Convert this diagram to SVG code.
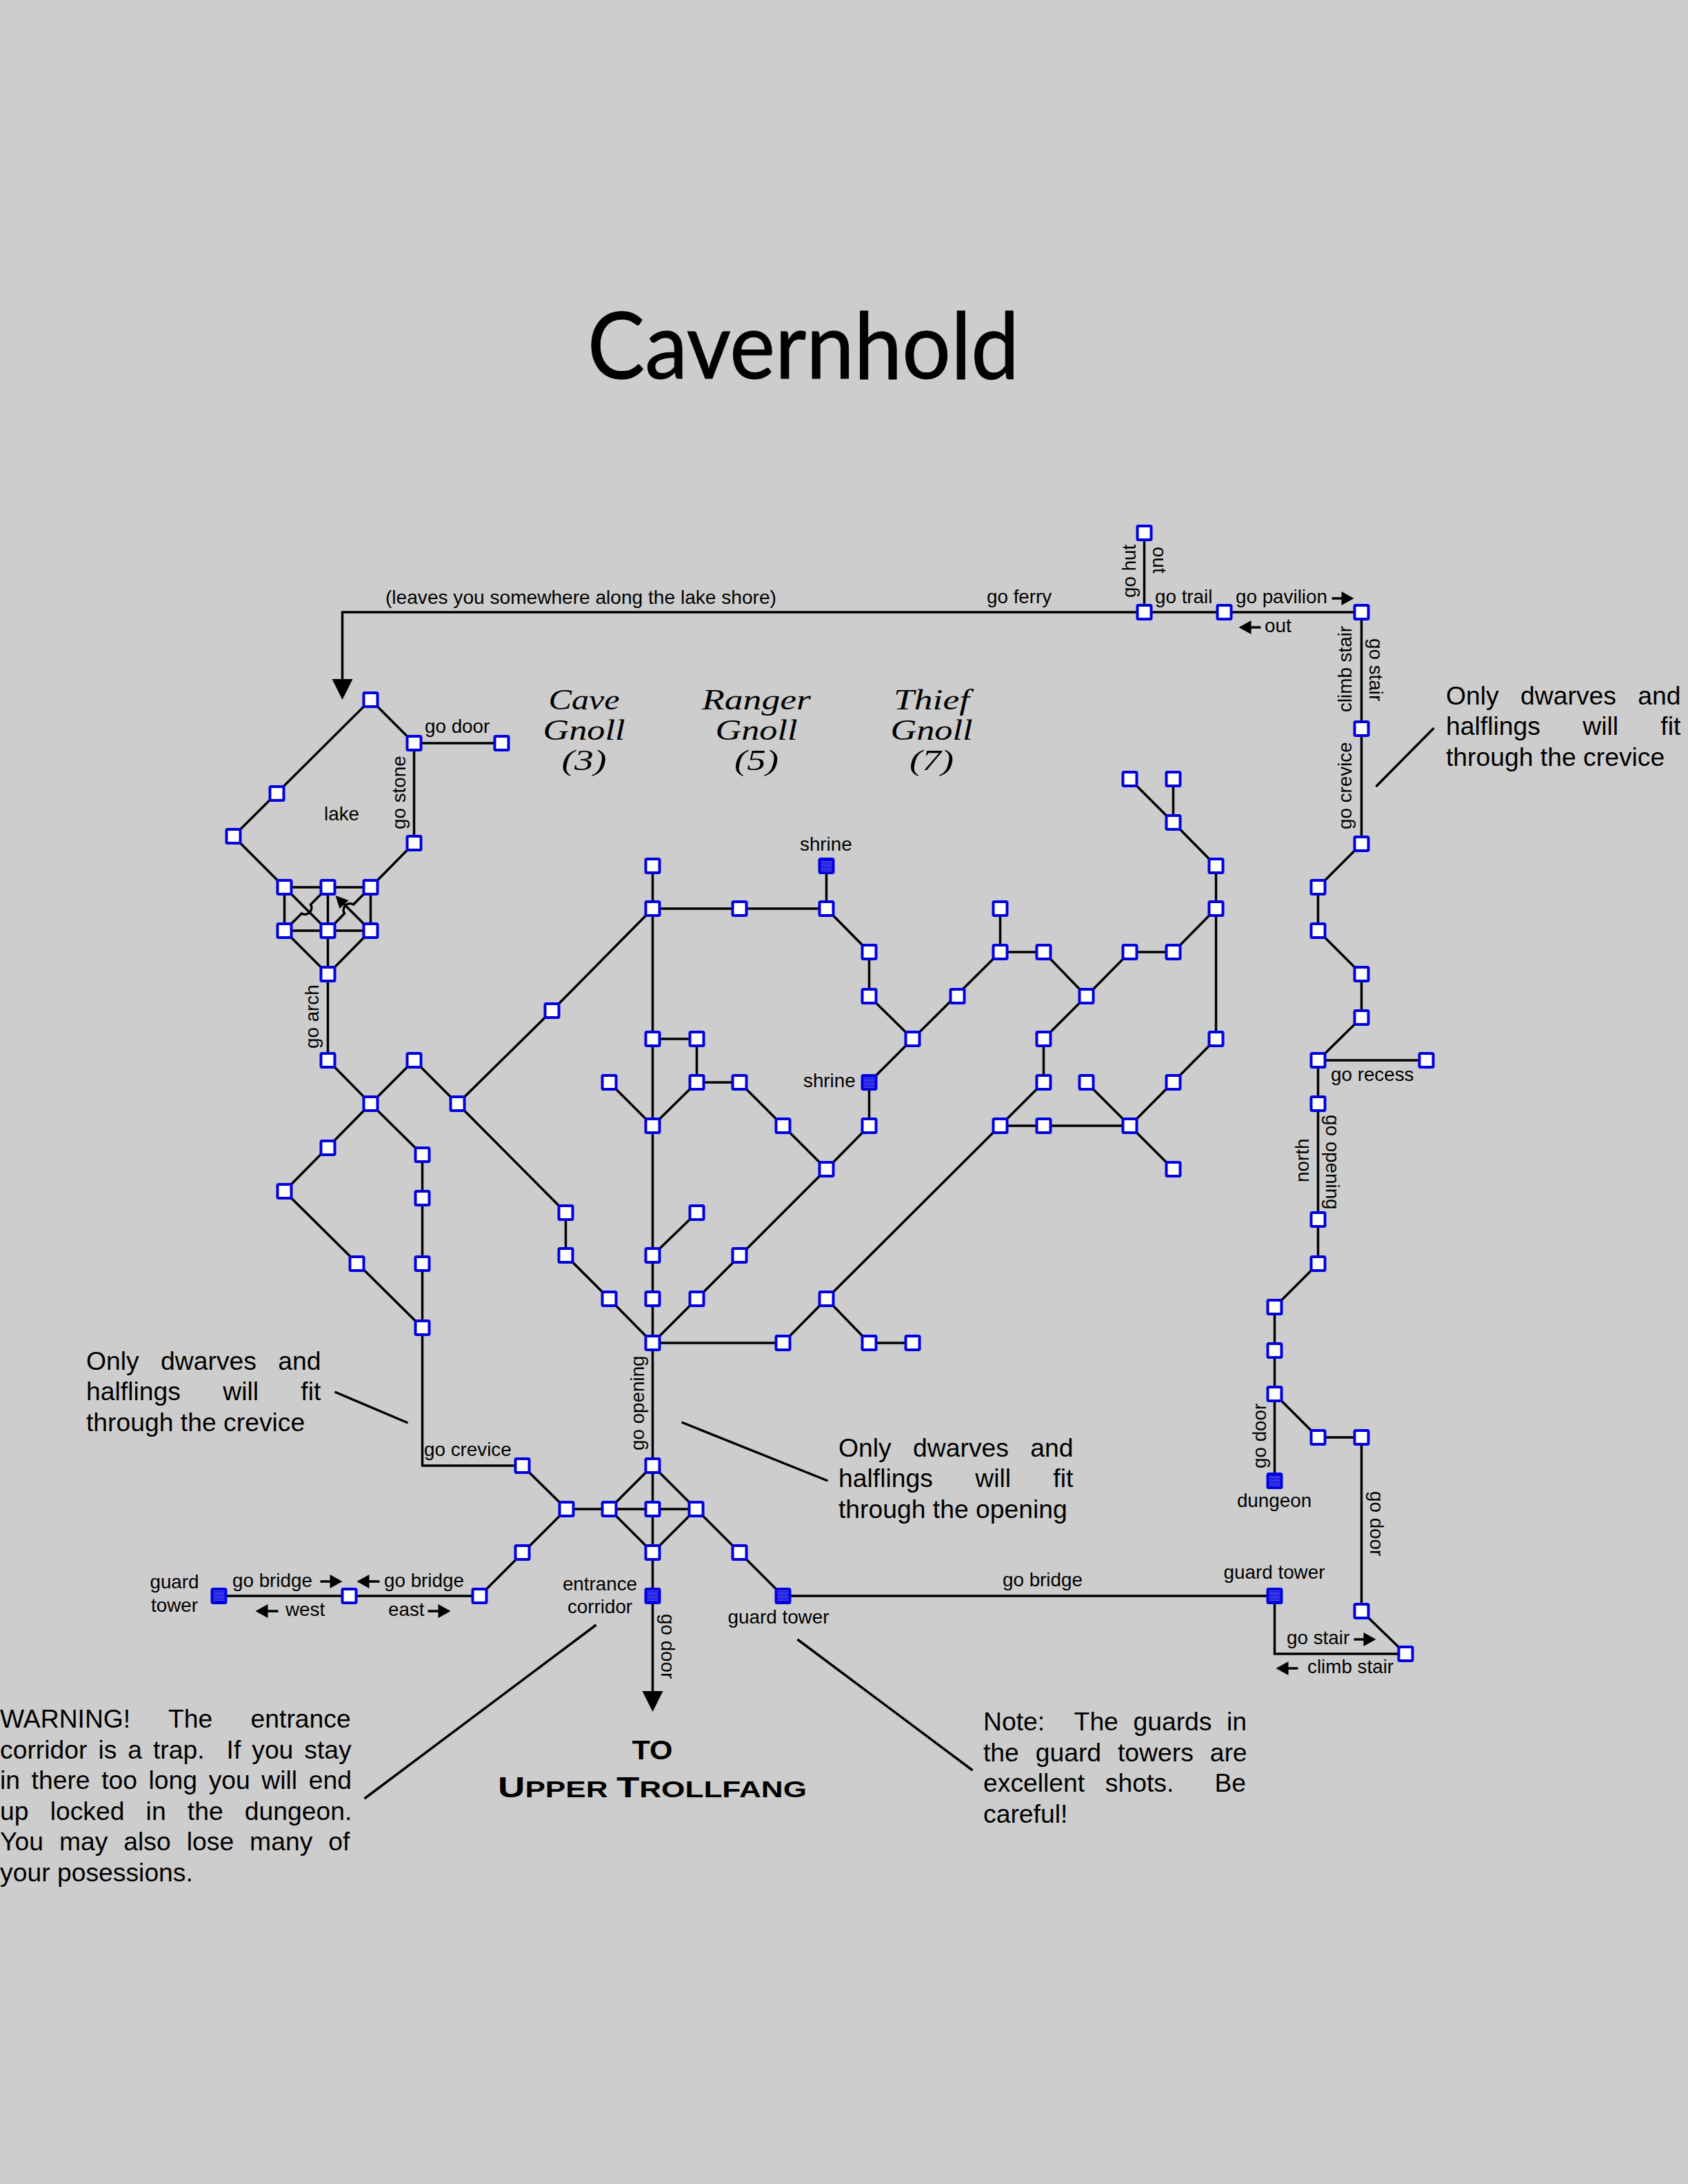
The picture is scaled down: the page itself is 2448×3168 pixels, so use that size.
<svg xmlns="http://www.w3.org/2000/svg" width="2448" height="3168" viewBox="0 0 2448 3168">
<style>
text{font-family:"Liberation Sans",Arial,sans-serif;fill:#000}
.s{font-size:27.8px}
.n{font-size:37.3px;white-space:pre}
.c{stroke:#000;stroke-width:3.5;fill:none;stroke-linejoin:miter}
.o{fill:#fff;stroke:#0000e0;stroke-width:4}
.f{fill:url(#dots);stroke:#0000e0;stroke-width:4}
.a{fill:#000;stroke:none}
.h{font-family:"Liberation Serif",serif;font-style:italic;font-size:42px}
.m{text-anchor:middle}
.t{font-weight:bold}
rect.o,rect.f{rx:1.5px}
</style>
<defs>
<pattern id="dots" width="2" height="2" patternUnits="userSpaceOnUse"><rect width="2" height="2" fill="#0000e0"/><rect width="1" height="1" fill="#fff" fill-opacity="0.7"/></pattern>
</defs>
<rect width="2448" height="3168" fill="#cdcdcd"/>
<g id="connectors" transform="translate(0.5 1)">
<path class="c" d="M600,1222V1077L537,1014L338,1212L412,1286H537L600,1222M600,1077H727M412,1286V1349H537V1286M475,1286V1537M412,1349L475,1412L537,1349M412,1286L475,1349M537,1349L495,1307"/>
<path class="c" d="M412,1349L437,1324A9.5,9.5 0 0 0 450,1311L475,1286M537,1286L512,1311A9.5,9.5 0 0 0 499,1324L475,1349"/>
<path class="c" d="M475,1537L537,1600L600,1537L663,1600L800,1465L946,1317M663,1600L820,1758V1820L883,1883L946,1947M537,1600L412,1727L612,1925M537,1600L612,1674V2125H757L821,2188H1009L946,2125L883,2188L946,2251L1009,2188L1135,2314H1848V2398H2038L1974,2336V2084H1911L1848,2021V2147M821,2188L695,2314H317M946,2125V2452M1848,2021V1895L1911,1832V1537H2068M1911,1537L1974,1475V1412L1911,1349V1286L1974,1223V887H496V984M1659,887V772"/>
<path class="c" d="M946,2125V1255M946,1820L1010,1758M946,1632L883,1569M946,1632L1010,1569V1506H946M946,1317H1198V1255M1198,1317L1260,1380V1444L1323,1506M1010,1569H1072L1198,1695M946,1947L1198,1695L1260,1632V1569L1323,1506L1450,1380H1513L1575,1444L1638,1380H1701L1763,1317V1255L1701,1192L1638,1129M1701,1192V1129M1450,1380V1317M1763,1317V1506L1638,1632L1575,1569M1638,1632L1701,1695M1638,1632H1450M1575,1444L1513,1506V1569L1198,1883L1135,1947H946M1198,1883L1260,1947H1323"/>
<path class="c" d="M2079,1055L1995,1140M485,2018L591,2063M988,2062L1200,2147M864,2356L528,2608M1156,2377L1410,2567"/>
<path class="a" d="M481,984H511L496,1014ZM931,2452H961L946,2482ZM486,1298L505,1305L492,1317Z"/>
<path class="c" d="M1931,867H1946M1828,909H1812M1963,2377H1978M1882,2419H1866M464,2293H480M550,2293H534M403,2336H386M620,2336H636"/>
<path class="a" d="M1963,867L1945,857V877ZM1796,909L1814,899V919ZM1995,2377L1977,2367V2387ZM1850,2419L1868,2409V2429ZM496,2293L478,2283V2303ZM517,2293L535,2283V2303ZM370,2336L388,2326V2346ZM653,2336L635,2326V2346Z"/>
</g>
<g id="nodes" transform="translate(0.5 1)">
<g id="n1"><rect class="o" x="527" y="1004" width="20" height="20"/></g>
<g id="n2"><rect class="o" x="590" y="1067" width="20" height="20"/></g>
<g id="n3"><rect class="o" x="717" y="1067" width="20" height="20"/></g>
<g id="n4"><rect class="o" x="391" y="1140" width="20" height="20"/></g>
<g id="n5"><rect class="o" x="328" y="1202" width="20" height="20"/></g>
<g id="n6"><rect class="o" x="590" y="1212" width="20" height="20"/></g>
<g id="n7"><rect class="o" x="402" y="1276" width="20" height="20"/></g>
<g id="n8"><rect class="o" x="465" y="1276" width="20" height="20"/></g>
<g id="n9"><rect class="o" x="527" y="1276" width="20" height="20"/></g>
<g id="n10"><rect class="o" x="402" y="1339" width="20" height="20"/></g>
<g id="n11"><rect class="o" x="465" y="1339" width="20" height="20"/></g>
<g id="n12"><rect class="o" x="527" y="1339" width="20" height="20"/></g>
<g id="n13"><rect class="o" x="465" y="1402" width="20" height="20"/></g>
<g id="n14"><rect class="o" x="465" y="1527" width="20" height="20"/></g>
<g id="n15"><rect class="o" x="590" y="1527" width="20" height="20"/></g>
<g id="n16"><rect class="o" x="527" y="1590" width="20" height="20"/></g>
<g id="n17"><rect class="o" x="653" y="1590" width="20" height="20"/></g>
<g id="n18"><rect class="o" x="790" y="1455" width="20" height="20"/></g>
<g id="n19"><rect class="o" x="465" y="1654" width="20" height="20"/></g>
<g id="n20"><rect class="o" x="402" y="1717" width="20" height="20"/></g>
<g id="n21"><rect class="o" x="602" y="1664" width="20" height="20"/></g>
<g id="n22"><rect class="o" x="602" y="1727" width="20" height="20"/></g>
<g id="n23"><rect class="o" x="507" y="1822" width="20" height="20"/></g>
<g id="n24"><rect class="o" x="602" y="1822" width="20" height="20"/></g>
<g id="n25"><rect class="o" x="602" y="1915" width="20" height="20"/></g>
<g id="n26"><rect class="o" x="747" y="2115" width="20" height="20"/></g>
<g id="n27"><rect class="o" x="811" y="2178" width="20" height="20"/></g>
<g id="n28"><rect class="o" x="873" y="2178" width="20" height="20"/></g>
<g id="n29"><rect class="o" x="936" y="2178" width="20" height="20"/></g>
<g id="n30"><rect class="o" x="999" y="2178" width="20" height="20"/></g>
<g id="n31"><rect class="o" x="936" y="2115" width="20" height="20"/></g>
<g id="n32"><rect class="o" x="936" y="2241" width="20" height="20"/></g>
<g id="n33"><rect class="o" x="747" y="2241" width="20" height="20"/></g>
<g id="n34"><rect class="o" x="1062" y="2241" width="20" height="20"/></g>
<g id="n35"><rect class="o" x="685" y="2304" width="20" height="20"/></g>
<g id="n36"><rect class="o" x="496" y="2304" width="20" height="20"/></g>
<g id="n37"><rect class="f" x="307" y="2304" width="20" height="20"/></g>
<g id="n38"><rect class="f" x="936" y="2304" width="20" height="20"/></g>
<g id="n39"><rect class="f" x="1125" y="2304" width="20" height="20"/></g>
<g id="n40"><rect class="f" x="1838" y="2304" width="20" height="20"/></g>
<g id="n41"><rect class="o" x="1964" y="2326" width="20" height="20"/></g>
<g id="n42"><rect class="o" x="2028" y="2388" width="20" height="20"/></g>
<g id="n43"><rect class="o" x="1964" y="2074" width="20" height="20"/></g>
<g id="n44"><rect class="o" x="1901" y="2074" width="20" height="20"/></g>
<g id="n45"><rect class="o" x="1838" y="2011" width="20" height="20"/></g>
<g id="n46"><rect class="f" x="1838" y="2137" width="20" height="20"/></g>
<g id="n47"><rect class="o" x="1838" y="1948" width="20" height="20"/></g>
<g id="n48"><rect class="o" x="1838" y="1885" width="20" height="20"/></g>
<g id="n49"><rect class="o" x="1901" y="1822" width="20" height="20"/></g>
<g id="n50"><rect class="o" x="1901" y="1758" width="20" height="20"/></g>
<g id="n51"><rect class="o" x="1901" y="1590" width="20" height="20"/></g>
<g id="n52"><rect class="o" x="1901" y="1527" width="20" height="20"/></g>
<g id="n53"><rect class="o" x="2058" y="1527" width="20" height="20"/></g>
<g id="n54"><rect class="o" x="1964" y="1465" width="20" height="20"/></g>
<g id="n55"><rect class="o" x="1964" y="1402" width="20" height="20"/></g>
<g id="n56"><rect class="o" x="1901" y="1339" width="20" height="20"/></g>
<g id="n57"><rect class="o" x="1901" y="1276" width="20" height="20"/></g>
<g id="n58"><rect class="o" x="1964" y="1213" width="20" height="20"/></g>
<g id="n59"><rect class="o" x="1964" y="1046" width="20" height="20"/></g>
<g id="n60"><rect class="o" x="1964" y="877" width="20" height="20"/></g>
<g id="n61"><rect class="o" x="1765" y="877" width="20" height="20"/></g>
<g id="n62"><rect class="o" x="1649" y="877" width="20" height="20"/></g>
<g id="n63"><rect class="o" x="1649" y="762" width="20" height="20"/></g>
<g id="n64"><rect class="o" x="936" y="1937" width="20" height="20"/></g>
<g id="n65"><rect class="o" x="936" y="1873" width="20" height="20"/></g>
<g id="n66"><rect class="o" x="873" y="1873" width="20" height="20"/></g>
<g id="n67"><rect class="o" x="1000" y="1873" width="20" height="20"/></g>
<g id="n68"><rect class="o" x="810" y="1810" width="20" height="20"/></g>
<g id="n69"><rect class="o" x="810" y="1748" width="20" height="20"/></g>
<g id="n70"><rect class="o" x="936" y="1810" width="20" height="20"/></g>
<g id="n71"><rect class="o" x="1000" y="1748" width="20" height="20"/></g>
<g id="n72"><rect class="o" x="1062" y="1810" width="20" height="20"/></g>
<g id="n73"><rect class="o" x="936" y="1622" width="20" height="20"/></g>
<g id="n74"><rect class="o" x="873" y="1559" width="20" height="20"/></g>
<g id="n75"><rect class="o" x="1000" y="1559" width="20" height="20"/></g>
<g id="n76"><rect class="o" x="1000" y="1496" width="20" height="20"/></g>
<g id="n77"><rect class="o" x="936" y="1496" width="20" height="20"/></g>
<g id="n78"><rect class="o" x="936" y="1307" width="20" height="20"/></g>
<g id="n79"><rect class="o" x="936" y="1245" width="20" height="20"/></g>
<g id="n80"><rect class="o" x="1062" y="1307" width="20" height="20"/></g>
<g id="n81"><rect class="o" x="1188" y="1307" width="20" height="20"/></g>
<g id="n82"><rect class="f" x="1188" y="1245" width="20" height="20"/></g>
<g id="n83"><rect class="o" x="1250" y="1370" width="20" height="20"/></g>
<g id="n84"><rect class="o" x="1250" y="1434" width="20" height="20"/></g>
<g id="n85"><rect class="o" x="1313" y="1496" width="20" height="20"/></g>
<g id="n86"><rect class="o" x="1062" y="1559" width="20" height="20"/></g>
<g id="n87"><rect class="o" x="1125" y="1622" width="20" height="20"/></g>
<g id="n88"><rect class="o" x="1188" y="1685" width="20" height="20"/></g>
<g id="n89"><rect class="o" x="1250" y="1622" width="20" height="20"/></g>
<g id="n90"><rect class="f" x="1250" y="1559" width="20" height="20"/></g>
<g id="n91"><rect class="o" x="1378" y="1434" width="20" height="20"/></g>
<g id="n92"><rect class="o" x="1440" y="1370" width="20" height="20"/></g>
<g id="n93"><rect class="o" x="1440" y="1307" width="20" height="20"/></g>
<g id="n94"><rect class="o" x="1503" y="1370" width="20" height="20"/></g>
<g id="n95"><rect class="o" x="1565" y="1434" width="20" height="20"/></g>
<g id="n96"><rect class="o" x="1628" y="1370" width="20" height="20"/></g>
<g id="n97"><rect class="o" x="1691" y="1370" width="20" height="20"/></g>
<g id="n98"><rect class="o" x="1753" y="1307" width="20" height="20"/></g>
<g id="n99"><rect class="o" x="1753" y="1245" width="20" height="20"/></g>
<g id="n100"><rect class="o" x="1691" y="1182" width="20" height="20"/></g>
<g id="n101"><rect class="o" x="1628" y="1119" width="20" height="20"/></g>
<g id="n102"><rect class="o" x="1691" y="1119" width="20" height="20"/></g>
<g id="n103"><rect class="o" x="1753" y="1496" width="20" height="20"/></g>
<g id="n104"><rect class="o" x="1691" y="1559" width="20" height="20"/></g>
<g id="n105"><rect class="o" x="1628" y="1622" width="20" height="20"/></g>
<g id="n106"><rect class="o" x="1565" y="1559" width="20" height="20"/></g>
<g id="n107"><rect class="o" x="1691" y="1685" width="20" height="20"/></g>
<g id="n108"><rect class="o" x="1503" y="1622" width="20" height="20"/></g>
<g id="n109"><rect class="o" x="1440" y="1622" width="20" height="20"/></g>
<g id="n110"><rect class="o" x="1503" y="1496" width="20" height="20"/></g>
<g id="n111"><rect class="o" x="1503" y="1559" width="20" height="20"/></g>
<g id="n112"><rect class="o" x="1188" y="1873" width="20" height="20"/></g>
<g id="n113"><rect class="o" x="1125" y="1937" width="20" height="20"/></g>
<g id="n114"><rect class="o" x="1250" y="1937" width="20" height="20"/></g>
<g id="n115"><rect class="o" x="1313" y="1937" width="20" height="20"/></g>
</g>
<g id="labels">
<text x="852" y="549" font-size="134" textLength="626" lengthAdjust="spacingAndGlyphs" style="font-family:Lato,sans-serif;font-weight:400;stroke:#000;stroke-width:1;stroke-linejoin:round">Cavernhold</text>
<text class="h m" x="847" y="1029" textLength="103" lengthAdjust="spacingAndGlyphs">Cave</text>
<text class="h m" x="847" y="1073" textLength="119" lengthAdjust="spacingAndGlyphs">Gnoll</text>
<text class="h m" x="847" y="1117" textLength="65" lengthAdjust="spacingAndGlyphs">(3)</text>
<text class="h m" x="1097" y="1029" textLength="158" lengthAdjust="spacingAndGlyphs">Ranger</text>
<text class="h m" x="1097" y="1073" textLength="119" lengthAdjust="spacingAndGlyphs">Gnoll</text>
<text class="h m" x="1097" y="1117" textLength="64" lengthAdjust="spacingAndGlyphs">(5)</text>
<text class="h m" x="1351" y="1029" textLength="110" lengthAdjust="spacingAndGlyphs">Thief</text>
<text class="h m" x="1351" y="1073" textLength="119" lengthAdjust="spacingAndGlyphs">Gnoll</text>
<text class="h m" x="1351" y="1117" textLength="64" lengthAdjust="spacingAndGlyphs">(7)</text>
<text x="559" y="876" font-size="28.1" style="font-size:28.1px">(leaves you somewhere along the lake shore)</text>
<text class="s" x="1431" y="875">go ferry</text>
<text class="s" transform="translate(1647 867) rotate(-90)">go hut</text>
<text class="s" transform="translate(1672 793) rotate(90)">out</text>
<text class="s" x="1675" y="875">go trail</text>
<text class="s" x="1792" y="875">go pavilion</text>
<text class="s" x="1834" y="917">out</text>
<text class="s" transform="translate(1960 1033) rotate(-90)">climb stair</text>
<text class="s" transform="translate(1986 926) rotate(90)">go stair</text>
<text class="s" transform="translate(1960 1203) rotate(-90)">go crevice</text>
<text class="s" x="616" y="1063">go door</text>
<text class="s" transform="translate(588 1203) rotate(-90)">go stone</text>
<text class="s" x="470" y="1190">lake</text>
<text class="s" transform="translate(462 1521) rotate(-90)">go arch</text>
<text class="s" x="1930" y="1568">go recess</text>
<text class="s" transform="translate(1923 1617) rotate(90)">go opening</text>
<text class="s" transform="translate(1898 1715) rotate(-90)">north</text>
<text class="s" transform="translate(1836 2130) rotate(-90)">go door</text>
<text class="s m" x="1848" y="2186">dungeon</text>
<text class="s" transform="translate(1987 2163) rotate(90)">go door</text>
<text class="s m" x="1848" y="2290">guard tower</text>
<text class="s" x="1866" y="2385">go stair</text>
<text class="s" x="1896" y="2427">climb stair</text>
<text class="s" x="615" y="2112">go crevice</text>
<text class="s" transform="translate(934 2104) rotate(-90)">go opening</text>
<text class="s m" x="253" y="2304">guard</text>
<text class="s m" x="253" y="2338">tower</text>
<text class="s" x="337" y="2302">go bridge</text>
<text class="s" x="557" y="2302">go bridge</text>
<text class="s" x="414" y="2344">west</text>
<text class="s" x="563" y="2344">east</text>
<text class="s m" x="870" y="2307">entrance</text>
<text class="s m" x="870" y="2340">corridor</text>
<text class="s" transform="translate(959 2341) rotate(90)">go door</text>
<text class="s m" x="1129" y="2355">guard tower</text>
<text class="s" x="1454" y="2301">go bridge</text>
<text class="s" x="1160" y="1234">shrine</text>
<text class="s" x="1165" y="1577">shrine</text>
<text class="n" x="2097" y="1022" word-spacing="21">Only dwarves and</text>
<text class="n" x="2097" y="1066" word-spacing="51">halflings will fit</text>
<text class="n" x="2097" y="1111">through the crevice</text>
<text class="n" x="125" y="1987" word-spacing="21">Only dwarves and</text>
<text class="n" x="125" y="2031" word-spacing="51">halflings will fit</text>
<text class="n" x="125" y="2076">through the crevice</text>
<text class="n" x="1216" y="2113" word-spacing="21">Only dwarves and</text>
<text class="n" x="1216" y="2157" word-spacing="51">halflings will fit</text>
<text class="n" x="1216" y="2202">through the opening</text>
<text class="n" x="0" y="2506" word-spacing="45">WARNING! The entrance</text>
<text class="n" x="0" y="2551" word-spacing="5.6">corridor is a trap.  If you stay</text>
<text class="n" x="0" y="2595" word-spacing="6.2">in there too long you will end</text>
<text class="n" x="0" y="2640" word-spacing="20.8">up locked in the dungeon.</text>
<text class="n" x="0" y="2684" word-spacing="12.6">You may also lose many of</text>
<text class="n" x="0" y="2729">your posessions.</text>
<text class="n" x="1426" y="2510" word-spacing="11.2">Note:  The guards in</text>
<text class="n" x="1426" y="2555" word-spacing="13.5">the guard towers are</text>
<text class="n" x="1426" y="2599" word-spacing="19.2">excellent shots.  Be</text>
<text class="n" x="1426" y="2644">careful!</text>
<text class="t m" x="946" y="2552" font-size="38" textLength="59" lengthAdjust="spacingAndGlyphs">TO</text>
<text class="t" x="722" y="2607" font-size="34" textLength="448" lengthAdjust="spacingAndGlyphs"><tspan font-size="42">U</tspan>PPER <tspan font-size="42">T</tspan>ROLLFANG</text>
</g>
</svg>
